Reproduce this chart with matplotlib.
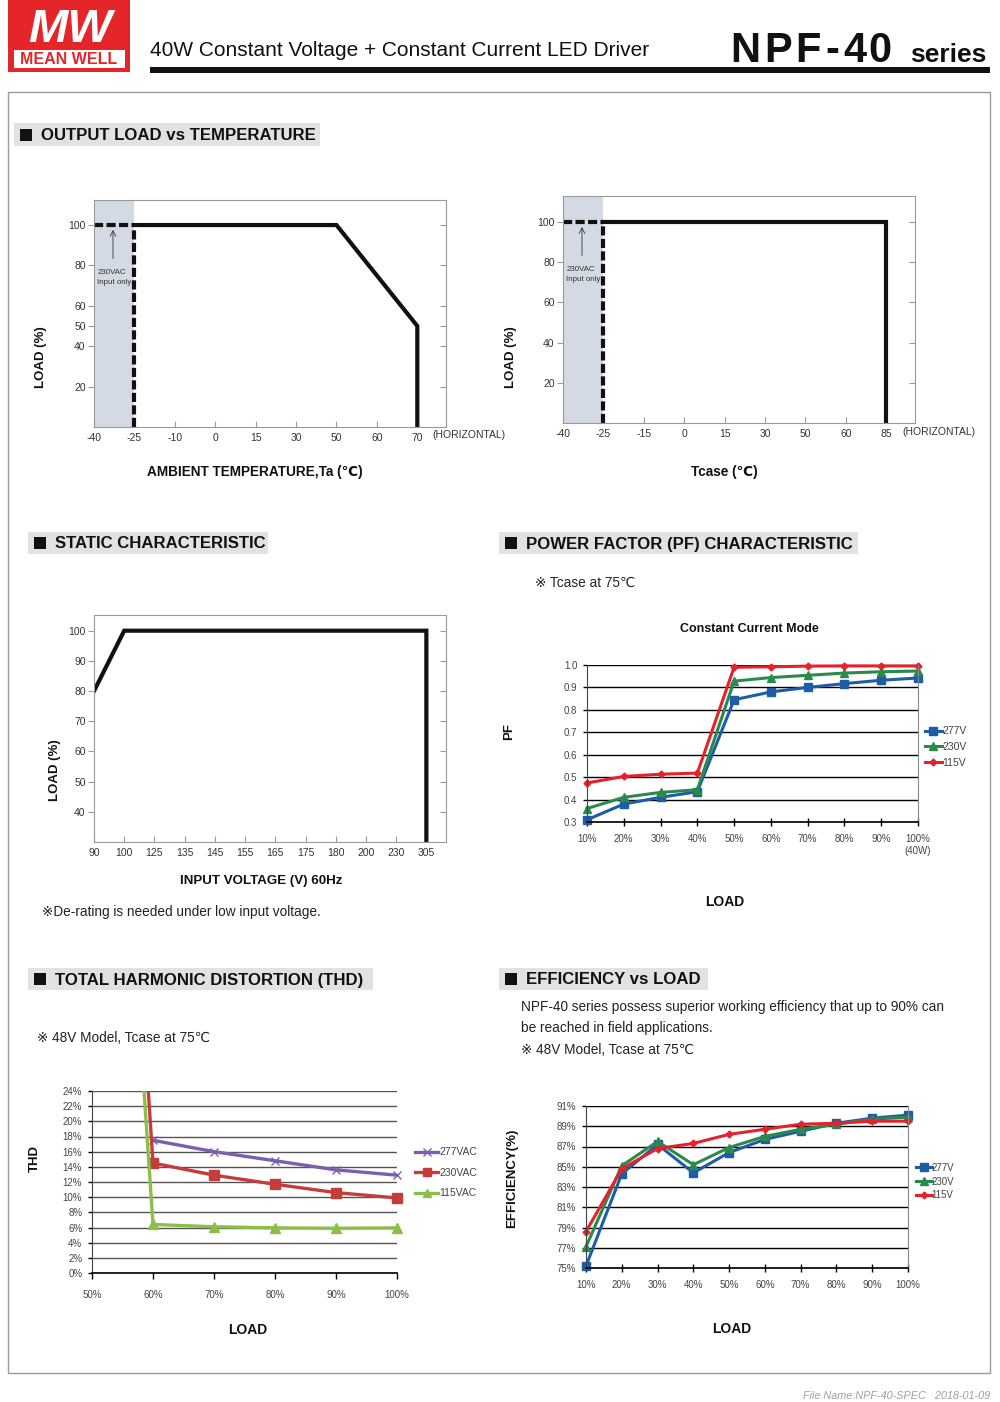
import numpy as np
import matplotlib.pyplot as plt
from matplotlib.patches import Rectangle
from matplotlib.lines import Line2D

W, H = 1000, 1402

plt.rcParams['font.family'] = ['Liberation Sans', 'DejaVu Sans', 'Noto Sans CJK SC']

# ---- data ----
# output load vs ambient temperature
ta_ticks = [-40, -25, -10, 0, 15, 30, 50, 60, 70]
ta_curve = [-25, 50, 70, 70]
ta_load = [100, 100, 50, 0]
# output load vs case temperature
tc_ticks = [-40, -25, -15, 0, 15, 30, 50, 60, 85]
tc_curve = [-25, 85, 85]
tc_load = [100, 100, 0]
low_temp = [-40, -25]          # 230VAC input only region
temp_yticks = [20, 40, 50, 60, 80, 100]
tc_yticks = [20, 40, 60, 80, 100]

# static characteristic
vin_ticks = [90, 100, 125, 135, 145, 155, 165, 175, 180, 200, 230, 305]
vin_curve = [90, 100, 305, 305]
vin_load = [80, 100, 100, 30]

# power factor
pf_load = [10, 20, 30, 40, 50, 60, 70, 80, 90, 100]
pf_277 = [0.31, 0.38, 0.41, 0.435, 0.845, 0.88, 0.90, 0.917, 0.932, 0.942]
pf_230 = [0.36, 0.41, 0.432, 0.444, 0.928, 0.944, 0.954, 0.964, 0.97, 0.973]
pf_115 = [0.474, 0.503, 0.513, 0.518, 0.99, 0.992, 0.995, 0.996, 0.996, 0.996]
pf_xlabels = ['10%', '20%', '30%', '40%', '50%', '60%', '70%', '80%', '90%', '100%\n(40W)']

# THD
thd_load_277 = [60, 70, 80, 90, 100]
thd_277 = [17.5, 16.0, 14.8, 13.6, 12.9]
thd_load = [55, 60, 70, 80, 90, 100]
thd_230 = [76.0, 14.5, 12.9, 11.7, 10.6, 9.9]
thd_115 = [66.0, 6.4, 6.1, 5.95, 5.9, 5.95]

# efficiency
eff_load = [10, 20, 30, 40, 50, 60, 70, 80, 90, 100]
eff_277 = [75.2, 84.3, 87.2, 84.4, 86.4, 87.7, 88.5, 89.3, 89.8, 90.1]
eff_230 = [77.1, 85.1, 87.5, 85.2, 86.9, 88.0, 88.7, 89.2, 89.7, 89.9]
eff_115 = [78.6, 84.8, 86.8, 87.3, 88.2, 88.7, 89.2, 89.3, 89.5, 89.5]

BLUE, GREEN, RED = '#1f5ca8', '#2a8a4c', '#e5222c'
PURPLE, DRED, LGREEN = '#7a5fae', '#c53d3a', '#8cbf4a'

fig = plt.figure(figsize=(W / 100, H / 100), dpi=100)


def axes_px(l, t, r, b):
    return fig.add_axes([l / W, 1 - b / H, (r - l) / W, (b - t) / H])


def txt(x, y, s, **kw):
    kw.setdefault('va', 'center')
    return fig.text(x / W, 1 - y / H, s, **kw)


def rect_px(x0, y0, x1, y1, **kw):
    fig.patches.append(Rectangle((x0 / W, 1 - y1 / H), (x1 - x0) / W, (y1 - y0) / H,
                                 transform=fig.transFigure, **kw))


def section(x0, x1, y0, y1, label):
    rect_px(x0, y0, x1, y1, color='#e2e2e2', lw=0)
    yc = (y0 + y1) / 2
    rect_px(x0 + 6, yc - 6, x0 + 18, yc + 6, color='#111', lw=0)
    txt(x0 + 27, yc + 1, label, fontsize=12.1, fontweight='bold', color='#111')


# ---- header ----
rect_px(8, 0, 130, 72, color='#e4262b', lw=0)
rect_px(14, 50, 125, 68, color='white', lw=0)
txt(69, 59.5, 'MEAN WELL', ha='center', fontsize=11.5, fontweight='bold', color='#e4262b')
txt(70, 42, 'MW', ha='center', va='baseline', fontsize=34, fontweight='bold',
    fontstyle='italic', color='white')
txt(150, 50, '40W Constant Voltage + Constant Current LED Driver', fontsize=15, color='#111')
for ch, x in zip('NPF-40', [745, 778, 808, 832, 855, 880]):
    txt(x, 62, ch, ha='center', va='baseline', fontsize=30, fontweight='bold', color='#111')
txt(910, 62, 'series', va='baseline', fontsize=19, fontweight='bold', color='#111')
rect_px(150, 67, 990, 73, color='#111', lw=0)
rect_px(8, 92, 990, 1373, fill=False, ec='#9a9a9a', lw=1)
txt(990, 1396, 'File Name:NPF-40-SPEC   2018-01-09', ha='right', fontsize=7.8,
    fontstyle='italic', color='#a0a0a0')

section(14, 320, 123, 146, 'OUTPUT LOAD vs TEMPERATURE')
section(28, 268, 532, 554, 'STATIC CHARACTERISTIC')
section(499, 858, 532, 554, 'POWER FACTOR (PF) CHARACTERISTIC')
section(28, 373, 968, 990, 'TOTAL HARMONIC DISTORTION (THD)')
section(499, 708, 968, 990, 'EFFICIENCY vs LOAD')


def frame(ax):
    for s in ax.spines.values():
        s.set_color('#9a9a9a')
        s.set_linewidth(0.8)
    ax.tick_params(colors='#9a9a9a', labelcolor='#333', labelsize=7.5, length=4, width=0.8)
    ax.tick_params(axis='x', direction='in', pad=4)
    ax.tick_params(axis='y', direction='out', pad=2)
    tw = ax.twinx()
    tw.set_ylim(ax.get_ylim())
    tw.set_yticks(ax.get_yticks())
    tw.tick_params(direction='in', colors='#9a9a9a', labelright=False, length=4, width=0.8)
    for s in tw.spines.values():
        s.set_visible(False)


def derating(ax, ticks, curve, load, xmax, ymax, yticks):
    pos = lambda t: np.interp(t, ticks, np.arange(len(ticks)))
    ax.set_xlim(0, xmax)
    ax.set_ylim(0, ymax)
    ax.axvspan(pos(low_temp[0]), pos(low_temp[1]), color='#d3dae4', lw=0)
    ax.plot(pos(curve), load, color='#111', lw=3, solid_joinstyle='miter')
    dash = (0, (2.2, 0.8))
    ax.plot(pos(low_temp), [load[0], load[0]], color='#111', lw=3, ls=dash)
    ax.plot(pos([low_temp[1], low_temp[1]]), [0, load[0]], color='#111', lw=3, ls=dash)
    ax.annotate('', xy=(0.47, load[0] - 1), xytext=(0.47, 82),
                arrowprops=dict(arrowstyle='->', color='#333', lw=0.6))
    ax.text(0.08, 74, '230VAC\nInput only', fontsize=5.7, color='#333', va='center',
            linespacing=1.5)
    ax.set_xticks(np.arange(len(ticks)))
    ax.set_xticklabels([str(t) for t in ticks])
    ax.set_yticks(yticks)
    frame(ax)


# ---- output load vs ambient temperature ----
ax1 = axes_px(94, 200, 446, 427)
derating(ax1, ta_ticks, ta_curve, ta_load, 8.71, 112.4, temp_yticks)
txt(432, 435, '(HORIZONTAL)', fontsize=7.5, color='#333')
txt(41, 357, 'LOAD (%)', rotation=90, ha='center', fontsize=9.5, fontweight='bold', color='#111')
txt(255, 472, 'AMBIENT TEMPERATURE,Ta (℃)', ha='center', fontsize=9.8, fontweight='bold', color='#111')

# ---- output load vs case temperature ----
ax2 = axes_px(563, 196, 915, 423)
derating(ax2, tc_ticks, tc_curve, tc_load, 8.71, 113, tc_yticks)
txt(902, 432, '(HORIZONTAL)', fontsize=7.5, color='#333')
txt(511, 357, 'LOAD (%)', rotation=90, ha='center', fontsize=9.5, fontweight='bold', color='#111')
txt(724, 472, 'Tcase (℃)', ha='center', fontsize=9.8, fontweight='bold', color='#111')

# ---- static characteristic ----
ax3 = axes_px(94, 615, 446, 842)
vpos = np.interp(vin_curve, vin_ticks, np.arange(len(vin_ticks)))
ax3.set_xlim(0, 11.65)
ax3.set_ylim(30, 105.2)
ax3.plot(vpos, vin_load, color='#111', lw=3, solid_joinstyle='miter')
ax3.set_xticks(np.arange(len(vin_ticks)))
ax3.set_xticklabels([str(v) for v in vin_ticks])
ax3.set_yticks(np.arange(40, 101, 10))
frame(ax3)
txt(55, 770, 'LOAD (%)', rotation=90, ha='center', fontsize=9.5, fontweight='bold', color='#111')
txt(261, 881, 'INPUT VOLTAGE (V) 60Hz', ha='center', fontsize=9.6, fontweight='bold', color='#111')
txt(42, 912, '※De-rating is needed under low input voltage.', fontsize=9.8, color='#222')


def grid_chart(ax, xlim, ylim, yticks, ylabels, gridc='black'):
    ax.set_xlim(*xlim)
    ax.set_ylim(*ylim)
    ax.set_yticks(yticks)
    ax.set_yticklabels(ylabels)
    ax.yaxis.grid(True, color=gridc, lw=1)
    ax.set_axisbelow(True)
    ax.spines['top'].set_visible(False)
    ax.spines['right'].set_color('#888')
    ax.spines['left'].set_color('#444')
    ax.spines['bottom'].set_color('black')
    ax.spines['bottom'].set_linewidth(1.2)
    ax.tick_params(axis='x', direction='inout', length=6, width=1, colors='black',
                   labelcolor='#444', labelsize=7, pad=6)
    ax.tick_params(axis='y', direction='out', length=3, width=1, colors='black',
                   labelcolor='#444', labelsize=7, pad=4)


# ---- power factor ----
ax4 = axes_px(587, 665, 918, 822)
grid_chart(ax4, (10, 100), (0.3, 1.0), np.round(np.arange(0.3, 1.01, 0.1), 1),
           ['%.1f' % v for v in np.arange(0.3, 1.01, 0.1)])
ax4.set_xticks(pf_load)
ax4.set_xticklabels(pf_xlabels)
ax4.plot(pf_load, pf_277, color=BLUE, lw=2.2, marker='s', ms=6, clip_on=False, label='277V')
ax4.plot(pf_load, pf_230, color=GREEN, lw=2.2, marker='^', ms=6, clip_on=False, label='230V')
ax4.plot(pf_load, pf_115, color=RED, lw=2.2, marker='D', ms=3.5, clip_on=False, label='115V')
ax4.legend(loc='upper left', bbox_to_anchor=(1.02, 0.61), frameon=False, fontsize=7.5,
           labelcolor='#444', handlelength=1.7, handletextpad=0.0, labelspacing=0.55,
           borderaxespad=0, borderpad=0)
txt(535, 583, '※ Tcase at 75℃', fontsize=9.8, color='#222')
txt(749, 629, 'Constant Current Mode', ha='center', fontsize=9, fontweight='bold', color='#111')
txt(509, 732, 'PF', rotation=90, ha='center', fontsize=9.5, fontweight='bold', color='#111')
txt(725, 902, 'LOAD', ha='center', fontsize=10, fontweight='bold', color='#111')

# ---- THD ----
ax5 = axes_px(92, 1091, 397, 1273)
grid_chart(ax5, (50, 100), (0, 24), np.arange(0, 25, 2),
           ['%d%%' % v for v in np.arange(0, 25, 2)], gridc='#555')
ax5.spines['right'].set_visible(False)
ax5.tick_params(axis='x', direction='out', length=4, pad=8)
ax5.set_xticks([50, 60, 70, 80, 90, 100])
ax5.set_xticklabels(['50%', '60%', '70%', '80%', '90%', '100%'])
ax5.plot(thd_load_277, thd_277, color=PURPLE, lw=2.4)
ax5.plot(thd_load_277, thd_277, color=PURPLE, ls='none', marker='x', ms=6, mew=1, clip_on=False)
ax5.plot(thd_load, thd_230, color=DRED, lw=2.4)
ax5.plot(thd_load[1:], thd_230[1:], color=DRED, ls='none', marker='s', ms=7, clip_on=False)
ax5.plot(thd_load, thd_115, color=LGREEN, lw=2.4)
ax5.plot(thd_load[1:], thd_115[1:], color=LGREEN, ls='none', marker='^', ms=7, clip_on=False)
thd_handles = [Line2D([], [], color=PURPLE, lw=2.4, marker='x', ms=6, mew=1),
               Line2D([], [], color=DRED, lw=2.4, marker='s', ms=6),
               Line2D([], [], color=LGREEN, lw=2.4, marker='^', ms=6)]
ax5.legend(thd_handles, ['277VAC', '230VAC', '115VAC'], loc='upper left',
           bbox_to_anchor=(1.06, 0.69), frameon=False, fontsize=7.5, labelcolor='#444',
           handlelength=2.2, handletextpad=0.1, labelspacing=1.0, borderaxespad=0, borderpad=0)
txt(37, 1038, '※ 48V Model, Tcase at 75℃', fontsize=9.8, color='#222')
txt(35, 1158, 'THD', rotation=90, ha='center', fontsize=9.5, fontweight='bold', color='#111')
txt(248, 1330, 'LOAD', ha='center', fontsize=10, fontweight='bold', color='#111')

# ---- efficiency ----
ax6 = axes_px(586, 1106, 908, 1268)
grid_chart(ax6, (10, 100), (75, 91), np.arange(75, 92, 2),
           ['%d%%' % v for v in np.arange(75, 92, 2)])
ax6.set_xticks(eff_load)
ax6.set_xticklabels(['%d%%' % v for v in eff_load])
ax6.plot(eff_load, eff_277, color=BLUE, lw=2.2, marker='s', ms=6, clip_on=False, label='277V')
ax6.plot(eff_load, eff_230, color=GREEN, lw=2.2, marker='^', ms=6, clip_on=False, label='230V')
ax6.plot(eff_load, eff_115, color=RED, lw=2.2, marker='D', ms=3.5, clip_on=False, label='115V')
ax6.legend(loc='upper left', bbox_to_anchor=(1.025, 0.65), frameon=False, fontsize=7,
           labelcolor='#444', handlelength=1.6, handletextpad=0.0, labelspacing=0.4,
           borderaxespad=0, borderpad=0)
txt(521, 1007, 'NPF-40 series possess superior working efficiency that up to 90% can',
    fontsize=9.8, color='#222')
txt(521, 1028, 'be reached in field applications.', fontsize=9.8, color='#222')
txt(521, 1050, '※ 48V Model, Tcase at 75℃', fontsize=9.8, color='#222')
txt(512, 1178, 'EFFICIENCY(%)', rotation=90, ha='center', fontsize=9.5, fontweight='bold', color='#111')
txt(732, 1329, 'LOAD', ha='center', fontsize=10, fontweight='bold', color='#111')

fig.savefig('out.png', dpi=100)
